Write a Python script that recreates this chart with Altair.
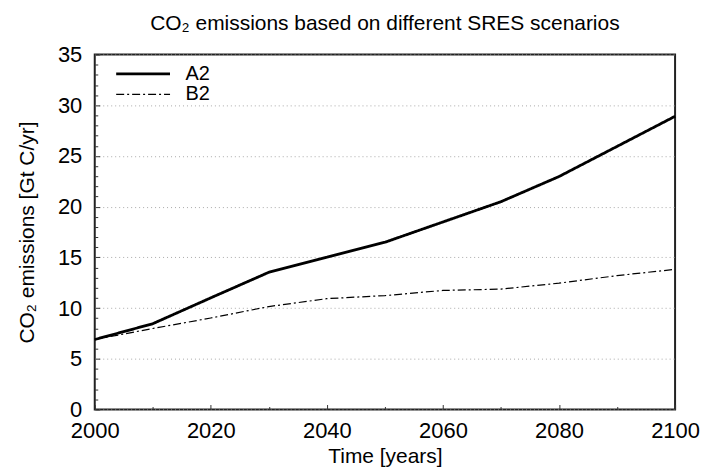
import altair as alt
import pandas as pd

years = [2000, 2010, 2020, 2030, 2040, 2050, 2060, 2070, 2080, 2090, 2100]
a2 = [6.90, 8.46, 11.01, 13.53, 15.01, 16.49, 18.49, 20.49, 22.97, 25.94, 28.91]
b2 = [6.90, 7.99, 9.02, 10.15, 10.93, 11.23, 11.74, 11.87, 12.46, 13.20, 13.82]
series = ["A2", "B2"]
x_major = [2000, 2020, 2040, 2060, 2080, 2100]
x_minor = [2010, 2030, 2050, 2070, 2090]
y_major = [0, 5, 10, 15, 20, 25, 30, 35]
y_minor = [v for v in range(0, 36) if v % 5 != 0]

rows = []
for y, v in zip(years, a2):
    rows.append({"year": y, "value": v, "series": "A2"})
for y, v in zip(years, b2):
    rows.append({"year": y, "value": v, "series": "B2"})
df = pd.DataFrame(rows)

FONT = "Liberation Sans"
xs = alt.Scale(domain=[2000, 2100], nice=False)
ys = alt.Scale(domain=[0, 35], nice=False)

lines = alt.Chart(df).mark_line().encode(
    x=alt.X("year:Q", scale=xs,
            axis=alt.Axis(title="Time [years]", values=x_major, orient="bottom",
                          format="d", grid=False, offset=-5, tickSize=5, domain=False,
                          tickColor="#333333", labelPadding=11, titlePadding=4,
                          labelFlush=False, labelFontSize=22, titleFontSize=21)),
    y=alt.Y("value:Q", scale=ys,
            axis=alt.Axis(title="CO₂ emissions [Gt C/yr]", values=y_major, orient="left",
                          grid=True, gridDash=[1, 3], gridColor="#aaaaaa", gridWidth=1,
                          offset=-5, tickSize=5, domain=False, tickColor="#333333",
                          labelPadding=13, titlePadding=20,
                          labelFontSize=22, titleFontSize=21)),
    color=alt.Color("series:N", scale=alt.Scale(domain=series, range=["black", "black"]), title=None),
    strokeDash=alt.StrokeDash("series:N", scale=alt.Scale(domain=series, range=[[1, 0], [8, 3, 2, 3]]), title=None),
    strokeWidth=alt.StrokeWidth("series:N", scale=alt.Scale(domain=series, range=[2.8, 1.2]), title=None),
)

minor = alt.Chart(df).mark_line(opacity=0).encode(
    x=alt.X("year:Q", scale=xs,
            axis=alt.Axis(title=None, values=x_minor, orient="bottom", labels=False, grid=False,
                          offset=-3, tickSize=3, domain=False, tickColor="#333333")),
    y=alt.Y("value:Q", scale=ys,
            axis=alt.Axis(title=None, values=y_minor, orient="left", labels=False, grid=False,
                          offset=-3, tickSize=3, domain=False, tickColor="#333333")),
    detail="series:N",
)

chart = alt.layer(lines, minor).resolve_axis(x="independent", y="independent").properties(
    width=582, height=356,
    padding={"left": 8, "top": 4, "right": 0, "bottom": 0},
    title=alt.Title("CO₂ emissions based on different SRES scenarios", fontSize=21,
                    fontWeight="normal", font=FONT, offset=10, color="black"),
).configure_view(
    stroke="#222222", strokeWidth=2
).configure_axis(
    labelFont=FONT, titleFont=FONT,
    titleFontWeight="normal", labelColor="black", titleColor="black"
).configure_legend(
    orient="none", legendX=38, legendY=9, symbolType="M-3,0H3", symbolSize=324,
    padding=0, labelFont=FONT, labelFontSize=20, labelColor="black", rowPadding=-1,
    labelOffset=32
)

chart.save("out.html", embed_options={"renderer": "svg", "actions": False})
